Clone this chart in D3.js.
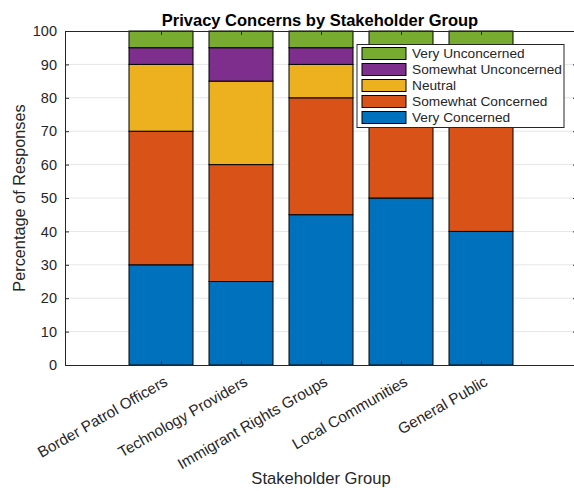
<!DOCTYPE html>
<html lang="en">
<head>
  <meta charset="utf-8">
  <title>Privacy Concerns by Stakeholder Group</title>
  <script src="https://cdn.jsdelivr.net/npm/d3@7"></script>
  <style>
    body { margin: 0; background: #fff; }
    svg { display: block; font-family: "Liberation Sans", Arial, sans-serif; }
  </style>
</head>
<body>
  <svg id="chart" width="574" height="491"></svg>
  <script>
    // stakeholder groups along x
    var groups = ['Border Patrol Officers', 'Technology Providers', 'Immigrant Rights Groups',
      'Local Communities', 'General Public'];
    // response levels, bottom to top
    var levels = ['Very Concerned', 'Somewhat Concerned', 'Neutral', 'Somewhat Unconcerned', 'Very Unconcerned'];
    var colors = ['#0072BD', '#D95319', '#EDB120', '#7E2F8E', '#77AC30'];

    // percentage per group, one array per level
    var veryConcerned = [30, 25, 45, 50, 40];
    var somewhatConcerned = [40, 35, 35, 25, 35];
    var neutral = [20, 25, 10, 10, 15];
    var somewhatUnconcerned = [5, 10, 5, 10, 5];
    var veryUnconcerned = [5, 5, 5, 5, 5];

    var yTicks = [0, 10, 20, 30, 40, 50, 60, 70, 80, 90, 100];

    var rows = groups.map((g, i) => ({
      group: g,
      idx: i + 1,
      'Very Concerned': veryConcerned[i],
      'Somewhat Concerned': somewhatConcerned[i],
      'Neutral': neutral[i],
      'Somewhat Unconcerned': somewhatUnconcerned[i],
      'Very Unconcerned': veryUnconcerned[i]
    }));

    var stack = d3.stack().keys(levels)(rows);

    var pL = 65, pR = 577, pT = 31, pB = 365;
    var x = d3.scaleLinear().domain([-0.2, 6.2]).range([pL, pR]);
    var y = d3.scaleLinear().domain([0, 100]).range([pB, pT]);
    var barW = (x(1) - x(0)) * 0.8;

    var svg = d3.select('#chart');
    var axisColor = '#262626';

    // grid lines
    svg.append('g')
      .selectAll('line')
      .data(yTicks.slice(1, -1))
      .enter()
      .append('line')
      .attr('x1', pL).attr('x2', pR)
      .attr('y1', d => y(d)).attr('y2', d => y(d))
      .style('stroke', '#e6e6e6')
      .style('stroke-width', 1);

    // bars
    svg.append('g')
      .selectAll('g')
      .data(stack)
      .enter()
      .append('g')
      .style('fill', (d, i) => colors[i])
      .selectAll('rect')
      .data(d => d)
      .enter()
      .append('rect')
      .attr('x', d => x(d.data.idx) - barW / 2)
      .attr('width', barW)
      .attr('y', d => y(d[1]))
      .attr('height', d => y(d[0]) - y(d[1]))
      .style('stroke', '#000')
      .style('stroke-width', 1);

    // axes, ticks pointing inward like matlab
    var idxs = groups.map((g, i) => i + 1);
    var gx = svg.append('g')
      .attr('transform', `translate(0,${pB})`)
      .call(d3.axisBottom(x).tickValues(idxs).tickSizeInner(-4).tickSizeOuter(0).tickFormat(''));
    var gxTop = svg.append('g')
      .attr('transform', `translate(0,${pT})`)
      .call(d3.axisTop(x).tickValues(idxs).tickSizeInner(-4).tickSizeOuter(0).tickFormat(''));
    var gy = svg.append('g')
      .attr('transform', `translate(${pL},0)`)
      .call(d3.axisLeft(y).tickValues(yTicks).tickSizeInner(-4).tickSizeOuter(0).tickPadding(8));
    var gyRight = svg.append('g')
      .attr('transform', `translate(${pR},0)`)
      .call(d3.axisRight(y).tickValues(yTicks).tickSizeInner(-4).tickSizeOuter(0).tickFormat(''));

    [gx, gxTop, gy, gyRight].forEach(g => {
      g.selectAll('path, line').style('stroke', axisColor);
      g.select('.domain').style('stroke-width', 1);
    });
    gy.selectAll('text')
      .style('font-size', '14.5px')
      .style('fill', axisColor)
      .style('font-family', '"Liberation Sans", Arial, sans-serif');

    // rotated category labels
    svg.append('g')
      .selectAll('text')
      .data(groups)
      .enter()
      .append('text')
      .attr('transform', (d, i) => `translate(${x(i + 1) + 5},${pB + 15}) rotate(-30)`)
      .attr('text-anchor', 'end')
      .attr('dy', '0.35em')
      .style('font-size', '15.3px')
      .style('fill', axisColor)
      .text(d => d);

    // title and axis labels
    svg.append('text')
      .attr('x', 320)
      .attr('y', 25.5)
      .attr('text-anchor', 'middle')
      .style('font-size', '16.5px')
      .style('font-weight', 'bold')
      .style('fill', '#000')
      .text('Privacy Concerns by Stakeholder Group');

    svg.append('text')
      .attr('x', 321)
      .attr('y', 484)
      .attr('text-anchor', 'middle')
      .style('font-size', '16.6px')
      .style('fill', axisColor)
      .text('Stakeholder Group');

    svg.append('text')
      .attr('transform', `translate(24.5,${(pT + pB) / 2}) rotate(-90)`)
      .attr('text-anchor', 'middle')
      .style('font-size', '16.3px')
      .style('fill', axisColor)
      .text('Percentage of Responses');

    // legend, top level first
    var lg = svg.append('g').attr('transform', 'translate(357,44.5)');
    lg.append('rect')
      .attr('width', 207).attr('height', 83)
      .style('fill', '#fff')
      .style('stroke', axisColor)
      .style('stroke-width', 1);
    var order = levels.slice().reverse();
    var item = lg.selectAll('g')
      .data(order)
      .enter()
      .append('g')
      .attr('transform', (d, i) => `translate(5,${3 + i * 16})`);
    item.append('rect')
      .attr('width', 44).attr('height', 12)
      .style('fill', d => colors[levels.indexOf(d)])
      .style('stroke', '#000')
      .style('stroke-width', 1);
    item.append('text')
      .attr('x', 50)
      .attr('y', 6)
      .attr('dy', '0.35em')
      .style('font-size', '13.7px')
      .style('fill', axisColor)
      .text(d => d);
  </script>
</body>
</html>
